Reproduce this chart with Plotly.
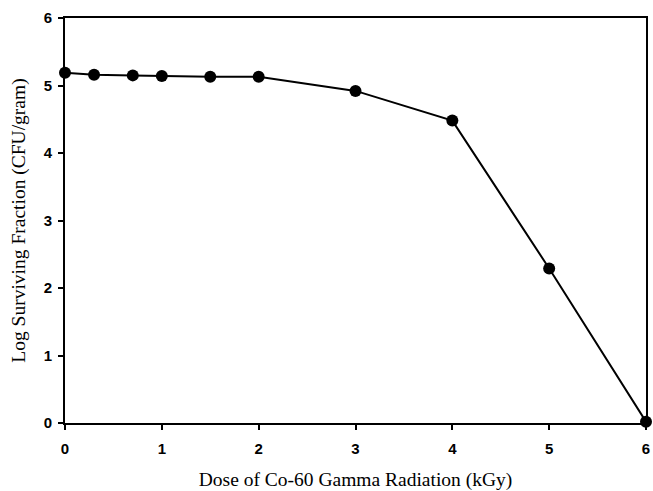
import plotly.graph_objects as go

dose_kgy = [0, 0.3, 0.7, 1, 1.5, 2, 3, 4, 5, 6]
log_surviving = [5.19, 5.16, 5.15, 5.14, 5.13, 5.13, 4.92, 4.48, 2.29, 0.02]
x_ticks = [0, 1, 2, 3, 4, 5, 6]
y_ticks = [0, 1, 2, 3, 4, 5, 6]

fig = go.Figure()
fig.add_trace(go.Scatter(
    x=dose_kgy, y=log_surviving, mode="lines+markers",
    line=dict(color="black", width=2),
    marker=dict(color="black", size=12),
    cliponaxis=False, showlegend=False,
))

axis_common = dict(
    showgrid=False, zeroline=False, showline=True, linecolor="black", linewidth=2,
    mirror=True, ticks="outside", ticklen=5, tickwidth=1.5, tickcolor="black",
    automargin=False,
    tickfont=dict(family="Liberation Sans", size=15, color="black", weight="bold"),
)
fig.update_xaxes(range=[0, 6], tickvals=x_ticks, **axis_common, ticklabelstandoff=6,
                 title=dict(text="Dose of Co-60 Gamma Radiation (kGy)",
                            font=dict(family="Liberation Serif", size=19.5, color="black"),
                            standoff=22))
fig.update_yaxes(range=[0, 6], tickvals=y_ticks, **axis_common, ticklabelstandoff=3,
                 title=dict(text="Log Surviving Fraction (CFU/gram)",
                            font=dict(family="Liberation Serif", size=19.5, color="black"),
                            standoff=13))
fig.update_layout(
    width=653, height=491,
    margin=dict(l=65, r=7, t=18, b=68),
    plot_bgcolor="white", paper_bgcolor="white",
)
fig.write_html("out.html", config={"displayModeBar": False},
               post_script="document.body.style.margin='0';")
